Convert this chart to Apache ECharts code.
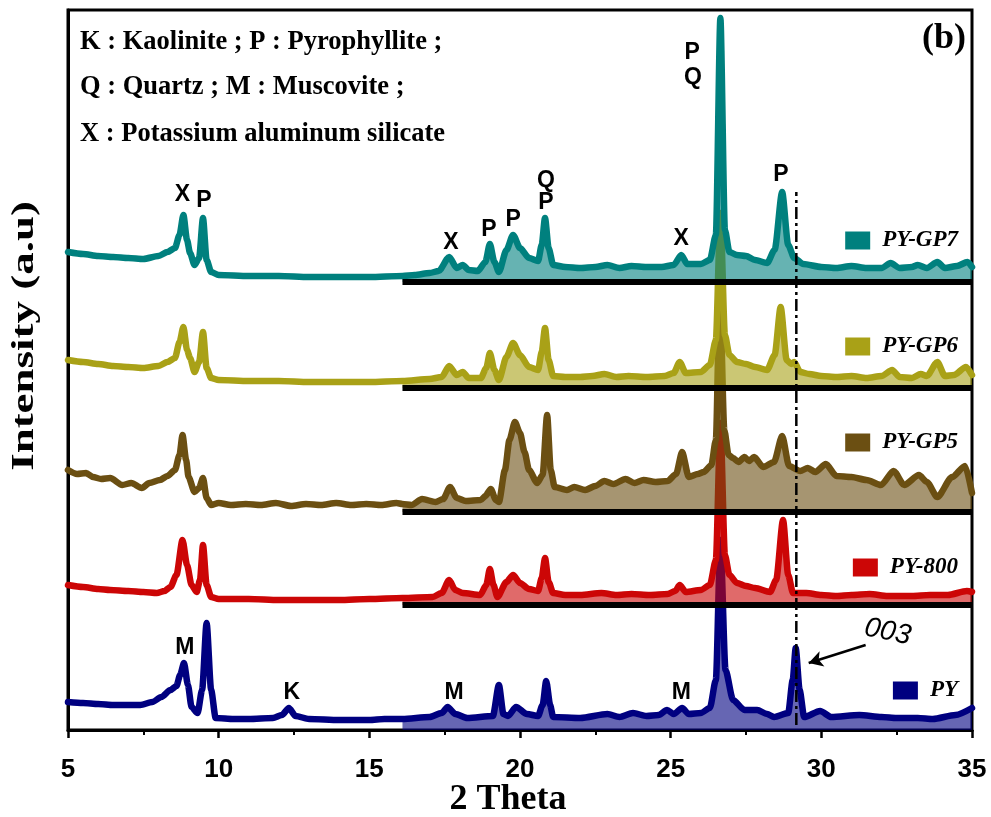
<!DOCTYPE html>
<html>
<head>
<meta charset="utf-8">
<script src="https://cdn.jsdelivr.net/npm/echarts@6/dist/echarts.min.js"></script>
<style>html,body{margin:0;padding:0;background:#fff}#c{width:991px;height:817px}</style>
</head>
<body>
<div id="c"></div>
<script>
// ---- DATA (2θ, intensity above each pattern's own baseline, a.u.) ----
const sampleNames = ['PY', 'PY-800', 'PY-GP5', 'PY-GP6', 'PY-GP7'];
const sampleColors = ['#000080', '#CC0606', '#6B4F12', '#A9A117', '#00807E'];
const baselineOffsets = [0, 125, 218, 342, 448];
const fillStart = 16.1;
const xTicks = [5, 10, 15, 20, 25, 30, 35];

const PY = [[5,28],[5.5,27],[6,26],[6.5,25],[7,25],[7.4,25],[7.8,28],[8.1,33],[8.4,40],[8.6,44],[8.72,55],[8.85,67],[8.98,45],[9.1,23],[9.3,17],[9.45,40],[9.6,107],[9.75,40],[9.9,12],[10.5,11],[11,11],[11.8,12],[12.1,15],[12.33,22],[12.55,14],[13,11],[14,10],[15,10],[15.5,11],[16.1,11],[17,13],[17.4,17],[17.6,23],[17.85,16],[18.25,12],[19.1,14],[19.3,45],[19.45,16],[19.6,14],[19.87,23],[20.23,16],[20.6,14],[20.75,25],[20.87,49],[21.0,25],[21.1,13],[22,12],[22.9,16],[23.3,13],[23.75,17],[24.2,14],[24.6,15],[24.88,20],[25.1,16],[25.38,22],[25.6,16],[26.0,17],[26.3,22],[26.5,50],[26.65,190],[26.82,60],[27.07,30],[27.45,20],[27.87,20],[28.2,16],[28.43,13],[28.9,17],[29.05,50],[29.15,82],[29.28,40],[29.43,13],[29.96,19],[30.33,13],[31.26,15],[32,13],[32.5,12],[33.2,12],[33.7,11],[34.45,15],[35,22]];

const PY800 = [[5,20],[5.5,18],[6,16],[6.4,15],[7,14],[7.5,13],[7.95,12],[8.2,14],[8.4,18],[8.6,30],[8.8,65],[8.95,40],[9.1,20],[9.27,13],[9.38,25],[9.48,60],[9.6,20],[9.75,8],[10,6],[11,6],[12,5],[13,5],[14,5],[15,6],[16.1,7],[17.1,8],[17.4,12],[17.65,25],[17.85,15],[18.1,12],[18.68,10],[18.88,20],[19.0,36],[19.12,20],[19.25,8],[19.55,23],[19.77,30],[20.0,22],[20.3,16],[20.6,14],[20.72,27],[20.83,47],[20.95,23],[21.1,12],[21.5,10],[22,10],[22.7,12],[23.2,10],[23.7,11],[24.3,10],[24.9,11],[25.15,14],[25.3,20],[25.5,13],[26.0,15],[26.3,20],[26.5,45],[26.65,182],[26.8,50],[26.95,30],[27.2,22],[27.5,19],[27.8,17],[28.3,13],[28.5,25],[28.73,85],[28.9,30],[29.06,12],[29.5,12],[30,10],[30.5,9],[31,10],[31.6,11],[32.2,9],[33,9],[33.6,10],[34.2,10],[34.83,14],[35,13]];

const GP5 = [[5,42],[5.3,38],[5.6,39],[5.83,35],[6.1,33],[6.4,34],[6.8,27],[7.1,29],[7.45,24],[7.7,29],[8.05,32],[8.3,36],[8.55,42],[8.7,57],[8.8,77],[8.92,52],[9.0,35],[9.2,20],[9.35,24],[9.48,34],[9.6,14],[9.75,7],[10.0,9],[10.4,7],[10.9,8],[11.4,7],[11.9,9],[12.4,6],[12.9,8],[13.4,7],[13.9,9],[14.4,7],[14.9,8],[15.4,7],[15.9,9],[16.1,8],[16.4,7],[16.75,13],[17.2,10],[17.45,13],[17.68,25],[17.9,14],[18.2,11],[18.7,12],[18.85,16],[19.03,23],[19.2,12],[19.3,10],[19.5,42],[19.65,72],[19.83,90],[20.0,79],[20.15,60],[20.3,42],[20.57,29],[20.75,37],[20.9,97],[21.02,42],[21.15,25],[21.56,22],[21.8,25],[22.16,22],[22.5,26],[22.8,31],[23.1,28],[23.5,33],[23.8,29],[24.1,32],[24.5,30],[24.9,31],[25.18,38],[25.38,60],[25.6,35],[25.9,38],[26.1,40],[26.35,47],[26.5,72],[26.63,222],[26.78,82],[26.92,57],[27.07,54],[27.25,50],[27.45,55],[27.6,51],[27.77,55],[28.07,45],[28.43,50],[28.7,76],[28.93,46],[29.3,41],[29.55,44],[29.8,40],[30.15,48],[30.5,36],[31.0,35],[31.5,32],[31.98,27],[32.4,41],[32.75,27],[33.24,37],[33.5,30],[33.85,15],[34.34,35],[34.77,46],[35,19]];

const GP6 = [[5,28],[5.5,26],[6,24],[6.5,22],[7,21],[7.5,20],[8,22],[8.3,26],[8.55,30],[8.7,46],[8.83,61],[8.95,38],[9.05,30],[9.2,16],[9.35,26],[9.48,56],[9.6,20],[9.75,10],[10,8],[11,7],[12,7],[13,6],[14,6],[15,6],[16.1,7],[17,9],[17.4,11],[17.65,22],[17.9,13],[18.1,16],[18.3,10],[18.7,10],[18.88,20],[19.0,35],[19.15,18],[19.3,8],[19.55,31],[19.77,45],[20.0,33],[20.3,21],[20.6,18],[20.72,36],[20.83,60],[20.95,28],[21.1,12],[21.5,11],[22,11],[22.4,12],[22.8,14],[23.2,11],[23.6,12],[24.2,11],[24.8,12],[25.1,15],[25.3,26],[25.5,15],[26.0,16],[26.3,23],[26.5,48],[26.65,175],[26.8,53],[26.95,33],[27.2,26],[27.5,24],[27.8,21],[28.2,18],[28.45,33],[28.65,81],[28.85,28],[29.0,24],[29.1,26],[29.3,16],[29.6,14],[30,12],[30.5,11],[31,12],[31.5,10],[32.0,12],[32.35,18],[32.6,11],[33.0,10],[33.3,14],[33.5,12],[33.85,26],[34.1,12],[34.4,13],[34.8,21],[35,13]];

const GP7 = [[5,30],[5.5,28],[6,26],[6.5,25],[7,24],[7.5,23],[8.0,26],[8.3,30],[8.55,34],[8.7,47],[8.83,67],[8.95,42],[9.05,29],[9.2,17],[9.35,24],[9.48,64],[9.6,22],[9.75,10],[10,7],[11,6],[12,6],[13,5],[14,5],[15,5],[16.1,6],[16.5,7],[17,9],[17.3,11],[17.65,25],[17.9,14],[18.1,17],[18.3,12],[18.6,11],[18.85,20],[19.0,38],[19.15,20],[19.3,10],[19.55,32],[19.77,47],[20.0,34],[20.3,24],[20.6,21],[20.72,37],[20.83,64],[20.95,34],[21.1,17],[21.5,15],[22,14],[22.5,15],[22.9,17],[23.3,14],[23.7,16],[24.2,15],[24.7,15],[25.1,17],[25.35,27],[25.55,18],[26.0,18],[26.3,22],[26.5,47],[26.65,264],[26.8,52],[26.95,30],[27.2,27],[27.5,26],[27.8,22],[28.2,19],[28.45,32],[28.7,90],[28.9,37],[29.1,24],[29.4,18],[30,15],[30.5,14],[31,16],[31.5,14],[32.0,14],[32.3,19],[32.6,14],[33.0,15],[33.2,17],[33.5,14],[33.85,20],[34.1,14],[34.5,16],[34.85,20],[35,15]];

const samplePatterns = [PY, PY800, GP5, GP6, GP7];

// peak annotations: [2θ, stacked y, text]
const peakLabels = [
  [8.8, 535, 'X'], [9.51, 529, 'P'], [17.71, 487, 'X'], [18.97, 500, 'P'], [19.77, 510, 'P'],
  [20.86, 549, 'Q'], [20.86, 527, 'P'], [25.35, 491, 'X'], [25.71, 677, 'P'], [25.74, 652, 'Q'],
  [28.66, 555, 'P'],
  [8.88, 82, 'M'], [12.43, 37, 'K'], [17.81, 37, 'M'], [25.35, 37, 'M']
];
const marker003 = [32.2, 98, '003'];
const arrow003 = [[31.47, 85], [29.58, 67]];
const dashLine = [[29.17, 5], [29.17, 538]];

// ---- BUILD ----
const series = [];
samplePatterns.forEach((pts, i) => {
  const off = baselineOffsets[i], col = sampleColors[i];
  const stacked = pts.map(p => [p[0], p[1] + off]);
  series.push({
    type: 'line', name: sampleNames[i] + '_fill', silent: true, symbol: 'none',
    smooth: 0.25, smoothMonotone: 'x',
    data: stacked.filter(p => p[0] >= fillStart),
    lineStyle: { width: 0 }, areaStyle: { color: col, opacity: 0.6, origin: off },
    z: 2 + i * 2, animation: false
  });
  series.push({
    type: 'line', name: sampleNames[i], silent: true, symbol: 'none',
    smooth: 0.25, smoothMonotone: 'x',
    data: stacked, lineStyle: { width: 6.5, color: col, join: 'round', cap: 'round' },
    itemStyle: { color: col }, z: 3 + i * 2, animation: false
  });
});
baselineOffsets.forEach((off, i) => {
  if (off === 0) return;
  series.push({
    type: 'line', name: 'base' + i, silent: true, symbol: 'none',
    data: [[fillStart, off], [35, off]], lineStyle: { width: 6, color: '#000' }, z: 20, animation: false
  });
});
series.push({
  type: 'line', name: 'dash', silent: true, symbol: 'none', data: dashLine,
  lineStyle: { width: 2.5, color: '#000', type: [12, 4, 3, 4] }, z: 21, animation: false,
  markLine: {
    silent: true, symbol: ['none', 'arrow'], symbolSize: [12, 14], animation: false,
    lineStyle: { color: '#000', width: 2.5, type: 'solid' }, label: { show: false },
    data: [[{ coord: arrow003[0] }, { coord: arrow003[1] }]]
  }
});

const legendTops = [679, 556, 431, 335, 229];
const legends = sampleNames.map((n, i) => ({
  data: [n], right: 33, top: legendTops[i], padding: 0, orient: 'horizontal',
  icon: 'rect', itemWidth: 25, itemHeight: 18, selectedMode: false,
  textStyle: { fontFamily: 'Liberation Serif, Times New Roman, serif', fontStyle: 'italic',
    fontWeight: 'bold', fontSize: 23, color: '#000', padding: [0, 0, 0, 7] }
}));

const chart = echarts.init(document.getElementById('c'), null, { renderer: 'canvas' });
chart.setOption({
  animation: false,
  backgroundColor: '#fff',
  grid: { left: 68, right: 19, top: 10, bottom: 87, show: true, borderColor: '#000', borderWidth: 3 },
  legend: legends,
  xAxis: {
    type: 'value', min: xTicks[0], max: xTicks[xTicks.length - 1], interval: 5,
    axisLine: { show: true, lineStyle: { color: '#000', width: 3 } },
    axisTick: { show: true, inside: false, length: 8, lineStyle: { color: '#000', width: 2.5 } },
    minorTick: { show: true, splitNumber: 2, length: 5, lineStyle: { color: '#000', width: 2 } },
    axisLabel: { margin: 27, color: '#000', fontFamily: 'Liberation Sans, Arial, sans-serif',
      fontWeight: 'bold', fontSize: 26 },
    splitLine: { show: false }
  },
  yAxis: {
    type: 'value', min: 0, max: 720,
    axisLine: { show: true, lineStyle: { color: '#000', width: 3 } },
    axisTick: { show: false }, axisLabel: { show: false }, splitLine: { show: false }
  },
  series: series
});

const serifB = '"Liberation Serif", "Times New Roman", serif';
const sansB = '"Liberation Sans", Arial, sans-serif';
const graphics = [
  { type: 'text', left: 80, top: 29, style: { text: 'K : Kaolinite ; P : Pyrophyllite ;', fill: '#000', font: 'bold 26.5px ' + serifB } },
  { type: 'text', left: 80, top: 74, style: { text: 'Q : Quartz ; M : Muscovite ;', fill: '#000', font: 'bold 26.5px ' + serifB } },
  { type: 'text', left: 80, top: 121, style: { text: 'X : Potassium aluminum silicate', fill: '#000', font: 'bold 26.5px ' + serifB } },
  { type: 'text', right: 25, top: 21, style: { text: '(b)', fill: '#000', font: 'bold 36px ' + serifB } },
  { type: 'text', x: 25, y: 336, rotation: Math.PI / 2, scaleX: 1.45, z: 50,
    style: { text: 'Intensity (a.u)', fill: '#000', font: 'bold 31px ' + serifB, align: 'center', verticalAlign: 'middle' } },
  { type: 'text', x: 508, y: 800, z: 50,
    style: { text: '2 Theta', fill: '#000', font: 'bold 36px ' + serifB, align: 'center', verticalAlign: 'middle' } }
];
peakLabels.forEach(l => {
  const p = chart.convertToPixel({ gridIndex: 0 }, [l[0], l[1]]);
  graphics.push({ type: 'text', x: p[0], y: p[1], z: 60,
    style: { text: l[2], fill: '#000', font: 'bold 23px ' + sansB, align: 'center', verticalAlign: 'middle' } });
});
{
  const p = chart.convertToPixel({ gridIndex: 0 }, [marker003[0], marker003[1]]);
  graphics.push({ type: 'text', x: p[0], y: p[1], rotation: -0.2, z: 60,
    style: { text: marker003[2], fill: '#000', font: 'italic 28px ' + sansB, align: 'center', verticalAlign: 'middle' } });
}
chart.setOption({ graphic: graphics });
</script>
</body>
</html>
